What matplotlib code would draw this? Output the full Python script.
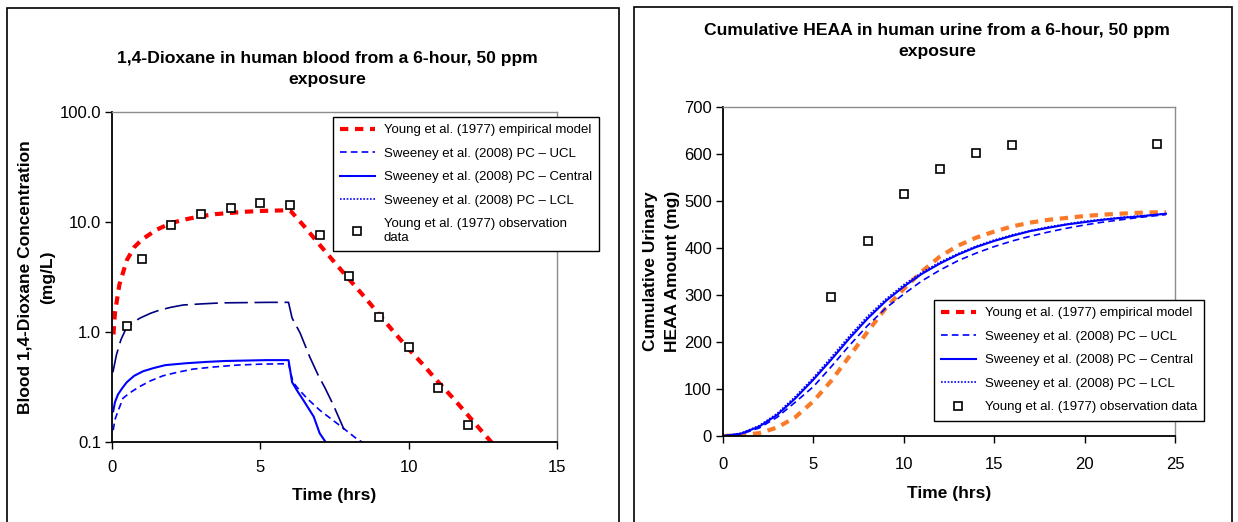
import matplotlib
matplotlib.use("Agg")
import matplotlib.pyplot as plt
from matplotlib.lines import Line2D
from matplotlib.patches import Rectangle

plt.rcParams['font.family'] = ['Liberation Sans', 'DejaVu Sans']

# ---- left panel: 1,4-dioxane in blood (log scale) ----
blood_obs_t = [0.5, 1, 2, 3, 4, 5, 6, 7, 8, 9, 10, 11, 12]
blood_obs = [1.13, 4.6, 9.4, 11.8, 13.5, 14.8, 14.3, 7.6, 3.25, 1.38, 0.73, 0.31, 0.143]

blood_young_t = [0.05, 0.1, 0.25, 0.5, 0.75, 1, 1.5, 2, 2.5, 3, 3.5, 4, 4.5, 5, 5.5, 6,
                 6.5, 7, 7.5, 8, 8.5, 9, 9.5, 10, 10.5, 11, 11.5, 12, 12.5, 13]
blood_young = [0.95, 1.5, 2.7, 4.5, 5.9, 6.9, 8.5, 9.8, 10.6, 11.3, 11.8, 12.1, 12.4, 12.6, 12.7, 12.8,
               9.0, 6.2, 4.3, 3.0, 2.1, 1.45, 1.0, 0.7, 0.5, 0.35, 0.25, 0.175, 0.122, 0.086]

blood_lcl_t = [0.03, 0.15, 0.3, 0.45, 0.7, 0.95, 1.3, 1.6, 2.0, 2.4, 3.0, 3.7, 4.5, 5.3, 5.95,
               6.07, 6.34, 6.67, 6.94, 7.18, 7.45, 7.8, 7.85]
blood_lcl = [0.43, 0.62, 0.85, 1.04, 1.22, 1.34, 1.48, 1.58, 1.68, 1.76, 1.8, 1.84, 1.85, 1.86, 1.86,
             1.34, 0.98, 0.59, 0.41, 0.31, 0.22, 0.134, 0.125]

blood_central_t = [0.04, 0.1, 0.2, 0.35, 0.5, 0.75, 1.05, 1.4, 1.8, 2.5, 3.2, 3.8, 4.5, 5.2, 5.95,
                   6.07, 6.25, 6.45, 6.8, 7.0, 7.2, 7.35]
blood_central = [0.19, 0.23, 0.27, 0.31, 0.35, 0.4, 0.44, 0.47, 0.5, 0.52, 0.535, 0.545, 0.55, 0.555, 0.555,
                 0.35, 0.29, 0.24, 0.17, 0.12, 0.1, 0.09]

blood_ucl_t = [0.04, 0.1, 0.2, 0.37, 0.6, 0.94, 1.3, 1.72, 2.2, 2.73, 3.4, 4.2, 5.0, 5.95,
               6.1, 6.3, 6.57, 7.0, 7.35, 7.79, 8.19, 8.5, 8.7]
blood_ucl = [0.128, 0.16, 0.19, 0.25, 0.28, 0.32, 0.36, 0.40, 0.43, 0.46, 0.48, 0.50, 0.51, 0.515,
             0.35, 0.3, 0.25, 0.195, 0.165, 0.134, 0.11, 0.097, 0.09]

blood_yticks = [0.1, 1, 10, 100]
blood_yticklabels = ["0.1", "1.0", "10.0", "100.0"]

# ---- right panel: cumulative HEAA in urine ----
urine_obs_t = [6, 8, 10, 12, 14, 16, 24]
urine_obs = [295, 414, 515, 568, 602, 620, 622]

urine_young_t = [0, 1, 2, 3, 4, 5, 6, 7, 8, 9, 10, 11, 12, 13, 14, 15, 16, 17, 18, 19, 20,
                 21, 22, 23, 24, 24.5]
urine_young = [0, 2, 6, 18, 40, 74, 118, 170, 222, 272, 313, 350, 382, 405, 422, 435, 446, 454,
               460, 464, 468, 471, 473, 475, 476, 476]

urine_t = [0, 1, 2, 3, 4, 5, 6, 7, 8, 9, 10, 11, 12, 13, 14, 15, 16, 17, 18, 19, 20, 21, 22, 23, 24, 24.5]
urine_central = [0, 5, 20, 45, 80, 120, 163, 208, 250, 287, 318, 345, 367, 386, 402, 415, 426, 436,
                 443, 450, 455, 460, 464, 467, 471, 473]
urine_ucl = [0, 4, 17, 40, 72, 105, 148, 193, 235, 272, 302, 330, 353, 373, 389, 403, 415, 425,
             434, 442, 449, 455, 460, 465, 469, 471]
urine_lcl = [0, 6, 22, 48, 84, 124, 168, 213, 255, 291, 322, 348, 370, 388, 404, 417, 428, 437,
             445, 451, 457, 461, 465, 468, 471, 473]

legend_labels = ["Young et al. (1977) empirical model",
                 "Sweeney et al. (2008) PC \u2013 UCL",
                 "Sweeney et al. (2008) PC \u2013 Central",
                 "Sweeney et al. (2008) PC \u2013 LCL"]

W, H = 1238, 522
fig = plt.figure(figsize=(W / 100, H / 100), dpi=100)


def px_axes(x0, y0, x1, y1):
    # pixel box (left, top, right, bottom) -> figure coords
    return fig.add_axes([x0 / W, 1 - y1 / H, (x1 - x0) / W, (y1 - y0) / H])


def style_axes(ax, xpad):
    for side in ("left", "bottom"):
        ax.spines[side].set_color("black")
        ax.spines[side].set_linewidth(1.3)
    for side in ("top", "right"):
        ax.spines[side].set_color("#8c8c8c")
        ax.spines[side].set_linewidth(1.0)
    ax.tick_params(direction="out", length=5, width=1, labelsize=12, pad=3)
    ax.tick_params(axis="x", pad=xpad)
    ax.minorticks_off()


def make_handles(obs_label):
    red = Line2D([], [], color="#ff0000", lw=3, dashes=(2, 1.6))
    ucl = Line2D([], [], color="#0000ff", lw=1.2, dashes=(4, 2.5))
    cen = Line2D([], [], color="#0000ff", lw=1.5)
    lcl = Line2D([], [], color="#0000ff", lw=1.2, dashes=(1, 1))
    obs = Line2D([], [], ls="none", marker="s", ms=6, mfc="white", mec="black", mew=1.2)
    return [red, ucl, cen, lcl, obs], legend_labels + [obs_label]


def add_legend(ax, obs_label, anchor):
    h, l = make_handles(obs_label)
    ax.legend(h, l, loc="upper left", bbox_to_anchor=anchor, borderaxespad=0, fontsize=9.5,
              frameon=True, fancybox=False, edgecolor="black", framealpha=1,
              handlelength=2.6, labelspacing=0.85, borderpad=0.55, handletextpad=0.7)


# panel borders
fig.patches.append(Rectangle((7 / W, -0.05), 612 / W, 1.05 - 8 / H, transform=fig.transFigure,
                             fill=False, ec="black", lw=1.2))
fig.patches.append(Rectangle((634 / W, -0.05), 598 / W, 1.05 - 7 / H, transform=fig.transFigure,
                             fill=False, ec="black", lw=1.2))

# left chart
ax1 = px_axes(112, 112, 557, 442)
ax1.plot(blood_young_t, blood_young, color="#ff0000", lw=3, dashes=(2, 1.6))
ax1.plot(blood_ucl_t, blood_ucl, color="#0000ff", lw=1.2, dashes=(4, 2.5))
ax1.plot(blood_central_t, blood_central, color="#0000ff", lw=1.5)
ax1.plot(blood_lcl_t, blood_lcl, color="#000080", lw=1.2, dashes=(14, 4))
ax1.plot(blood_obs_t, blood_obs, ls="none", marker="s", ms=6, mfc="white", mec="black", mew=1.2)
ax1.set_yscale("log")
ax1.set_xlim(0, 15)
ax1.set_ylim(0.1, 100)
ax1.set_xticks([0, 5, 10, 15])
ax1.set_yticks(blood_yticks)
ax1.set_yticklabels(blood_yticklabels)
style_axes(ax1, 8)
ax1.set_xlabel("Time (hrs)", fontsize=12.5, fontweight="bold")
ax1.xaxis.set_label_coords(0.5, -0.14)
ax1.set_ylabel("Blood 1,4-Dioxane Concentration\n(mg/L)", fontsize=12.5, fontweight="bold",
               linespacing=1.6)
ax1.yaxis.set_label_coords(-0.128, 0.5)
add_legend(ax1, "Young et al. (1977) observation\ndata", (0.4966, 0.985))
fig.text(327 / W, 1 - 69 / H, "1,4-Dioxane in human blood from a 6-hour, 50 ppm\nexposure",
         ha="center", va="center", fontsize=12.6, fontweight="bold", linespacing=1.42)

# right chart
ax2 = px_axes(723, 107, 1175, 436)
ax2.plot(urine_young_t, urine_young, color="#fa7a2a", lw=3, dashes=(2, 1.6))
ax2.plot(urine_t, urine_ucl, color="#0000ff", lw=1.2, dashes=(4, 2.5))
ax2.plot(urine_t, urine_central, color="#0000ff", lw=1.5)
ax2.plot(urine_t, urine_lcl, color="#0000ff", lw=1.2, dashes=(1, 1))
ax2.plot(urine_obs_t, urine_obs, ls="none", marker="s", ms=6, mfc="white", mec="black", mew=1.2)
ax2.set_xlim(0, 25)
ax2.set_ylim(0, 700)
ax2.set_xticks([0, 5, 10, 15, 20, 25])
ax2.set_yticks(range(0, 701, 100))
style_axes(ax2, 10)
ax2.set_xlabel("Time (hrs)", fontsize=12.5, fontweight="bold")
ax2.xaxis.set_label_coords(0.5, -0.153)
ax2.set_ylabel("Cumulative Urinary\nHEAA Amount (mg)", fontsize=12.5, fontweight="bold",
               linespacing=1.6)
ax2.yaxis.set_label_coords(-0.095, 0.5)
add_legend(ax2, "Young et al. (1977) observation data", (0.4668, 0.4134))
fig.text(937 / W, 1 - 41 / H, "Cumulative HEAA in human urine from a 6-hour, 50 ppm\nexposure",
         ha="center", va="center", fontsize=12.6, fontweight="bold", linespacing=1.42)

fig.savefig("out.png", dpi=100)
